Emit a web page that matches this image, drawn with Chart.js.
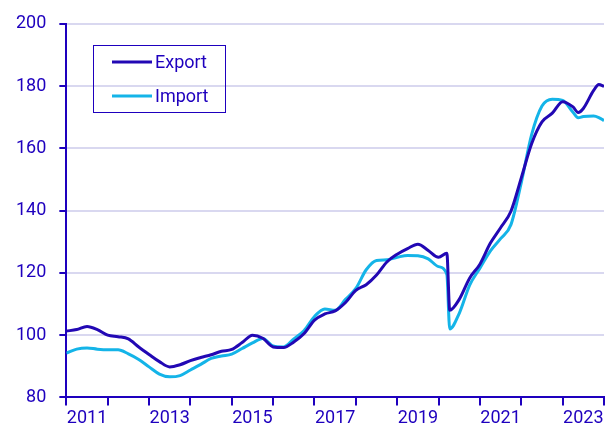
<!DOCTYPE html>
<html>
<head>
<meta charset="utf-8">
<script src="https://cdn.jsdelivr.net/npm/chart.js@4/dist/chart.umd.min.js"></script>
<style>
  html, body { margin: 0; padding: 0; background: #fff; }
  #wrap { width: 609px; height: 435px; }
</style>
</head>
<body>
<div id="wrap"><canvas id="myChart" width="609" height="435"></canvas></div>
<script>
// time in decimal years (quarters, plus a few extra points where the lines turn sharply)
var dates = [
    2011.00, 2011.25, 2011.50, 2011.75, 2012.00, 2012.25, 2012.50, 2012.75,
    2013.00, 2013.25, 2013.50, 2013.75, 2014.00, 2014.25, 2014.50, 2014.75,
    2015.00, 2015.25, 2015.50, 2015.75, 2016.00, 2016.25, 2016.50, 2016.75,
    2017.00, 2017.25, 2017.50, 2017.75, 2018.00, 2018.25, 2018.50, 2018.75,
    2019.00, 2019.25, 2019.50, 2019.75, 2020.00, 2020.20, 2020.27, 2020.50,
    2020.75, 2021.00, 2021.25, 2021.50, 2021.75, 2022.00, 2022.25, 2022.50,
    2022.75, 2023.00, 2023.25, 2023.375, 2023.50, 2023.75, 2023.875, 2024.00
];
var exportValues = [
    101.3, 101.8, 102.8, 101.8, 100.0, 99.5, 98.8, 96.2,
    93.8, 91.5, 89.8, 90.5, 91.8, 92.8, 93.7, 94.8,
    95.4, 97.6, 100.0, 99.0, 96.2, 96.0, 97.8, 100.5,
    104.8, 106.8, 107.8, 110.5, 114.4, 116.2, 119.3, 123.5,
    126.0, 127.8, 129.2, 127.2, 125.0, 126.3, 108.0, 111.5,
    118.3, 122.8, 129.5, 134.5, 139.8, 150.5, 161.5, 168.5,
    171.3, 175.0, 173.3, 171.5, 172.8, 178.6, 180.5, 179.9
];
var importValues = [
    94.2, 95.5, 95.9, 95.5, 95.3, 95.3, 94.0, 92.2,
    89.8, 87.5, 86.6, 87.0, 88.8, 90.6, 92.5, 93.3,
    93.9, 95.7, 97.5, 98.9, 96.5, 96.2, 98.8, 101.5,
    106.0, 108.4, 108.0, 111.5, 115.0, 121.0, 124.0, 124.2,
    125.0, 125.6, 125.5, 124.5, 122.0, 119.5, 102.0, 107.0,
    116.0, 121.5, 127.0, 131.0, 135.5, 149.0, 164.4, 173.6,
    175.8, 175.4, 171.6, 169.8, 170.2, 170.4, 169.9, 168.9
];
var seriesLabels = ["Export", "Import"];
var yTicks = [80, 100, 120, 140, 160, 180, 200];
var yearLabels = [2011, 2013, 2015, 2017, 2019, 2021, 2023];

var ink = "#1E00BE";
var exportColor = "#2208b4";
var importColor = "#14b4e8";
var fontFamily = "Roboto, 'Noto Sans', sans-serif";

function toPoints(values) {
    return dates.map(function (d, i) { return { x: d, y: values[i] }; });
}

// legend drawn inside the plot with a framed box
var boxLegend = {
    id: "boxLegend",
    afterDraw: function (chart) {
        var ctx = chart.ctx;
        ctx.save();
        ctx.strokeStyle = ink;
        ctx.lineWidth = 1;
        ctx.strokeRect(93.5, 45.5, 132, 67);
        ctx.font = "18px " + fontFamily;
        ctx.textBaseline = "middle";
        ctx.textAlign = "left";
        chart.data.datasets.forEach(function (ds, i) {
            var y = 62 + i * 34;
            ctx.strokeStyle = ds.borderColor;
            ctx.lineWidth = 3;
            ctx.beginPath();
            ctx.moveTo(112, y);
            ctx.lineTo(152, y);
            ctx.stroke();
            ctx.fillStyle = ink;
            ctx.fillText(ds.label, 155, y + 1);
        });
        ctx.restore();
    }
};

var ctx = document.getElementById("myChart").getContext("2d");
var myChart = new Chart(ctx, {
    type: "line",
    data: {
        datasets: [{
            label: seriesLabels[0],
            data: toPoints(exportValues),
            borderColor: exportColor,
            borderWidth: 3,
            pointRadius: 0,
            cubicInterpolationMode: "monotone",
            fill: false
        }, {
            label: seriesLabels[1],
            data: toPoints(importValues),
            borderColor: importColor,
            borderWidth: 3,
            pointRadius: 0,
            cubicInterpolationMode: "monotone",
            fill: false
        }]
    },
    options: {
        responsive: false,
        animation: false,
        layout: { padding: { left: 3, top: 23, right: 5, bottom: 4 } },
        plugins: {
            legend: { display: false },
            tooltip: { enabled: false }
        },
        scales: {
            x: {
                type: "linear",
                min: 2011,
                max: 2024,
                afterBuildTicks: function (axis) {
                    var t = [];
                    for (var v = 2011; v <= 2024; v += 0.5) t.push({ value: v });
                    axis.ticks = t;
                },
                border: { display: true, color: ink, width: 2 },
                grid: {
                    drawOnChartArea: false,
                    drawTicks: true,
                    tickLength: 8,
                    lineWidth: 2,
                    tickColor: function (c) {
                        return (c.tick && c.tick.value % 1 === 0) ? ink : "rgba(0,0,0,0)";
                    }
                },
                ticks: {
                    autoSkip: false,
                    maxRotation: 0,
                    padding: 2,
                    color: ink,
                    font: { family: fontFamily, size: 18 },
                    callback: function (value) {
                        var yr = value - 0.5;
                        return yearLabels.indexOf(yr) >= 0 ? String(yr) : "";
                    }
                }
            },
            y: {
                min: 80,
                max: 200,
                afterBuildTicks: function (axis) {
                    axis.ticks = yTicks.map(function (v) { return { value: v }; });
                },
                border: { display: true, color: ink, width: 2 },
                grid: {
                    color: "#d9d8f0",
                    lineWidth: 2,
                    tickLength: 7,
                    tickColor: ink
                },
                ticks: {
                    padding: 13,
                    color: ink,
                    font: { family: fontFamily, size: 18 }
                }
            }
        }
    },
    plugins: [boxLegend]
});
</script>
</body>
</html>
